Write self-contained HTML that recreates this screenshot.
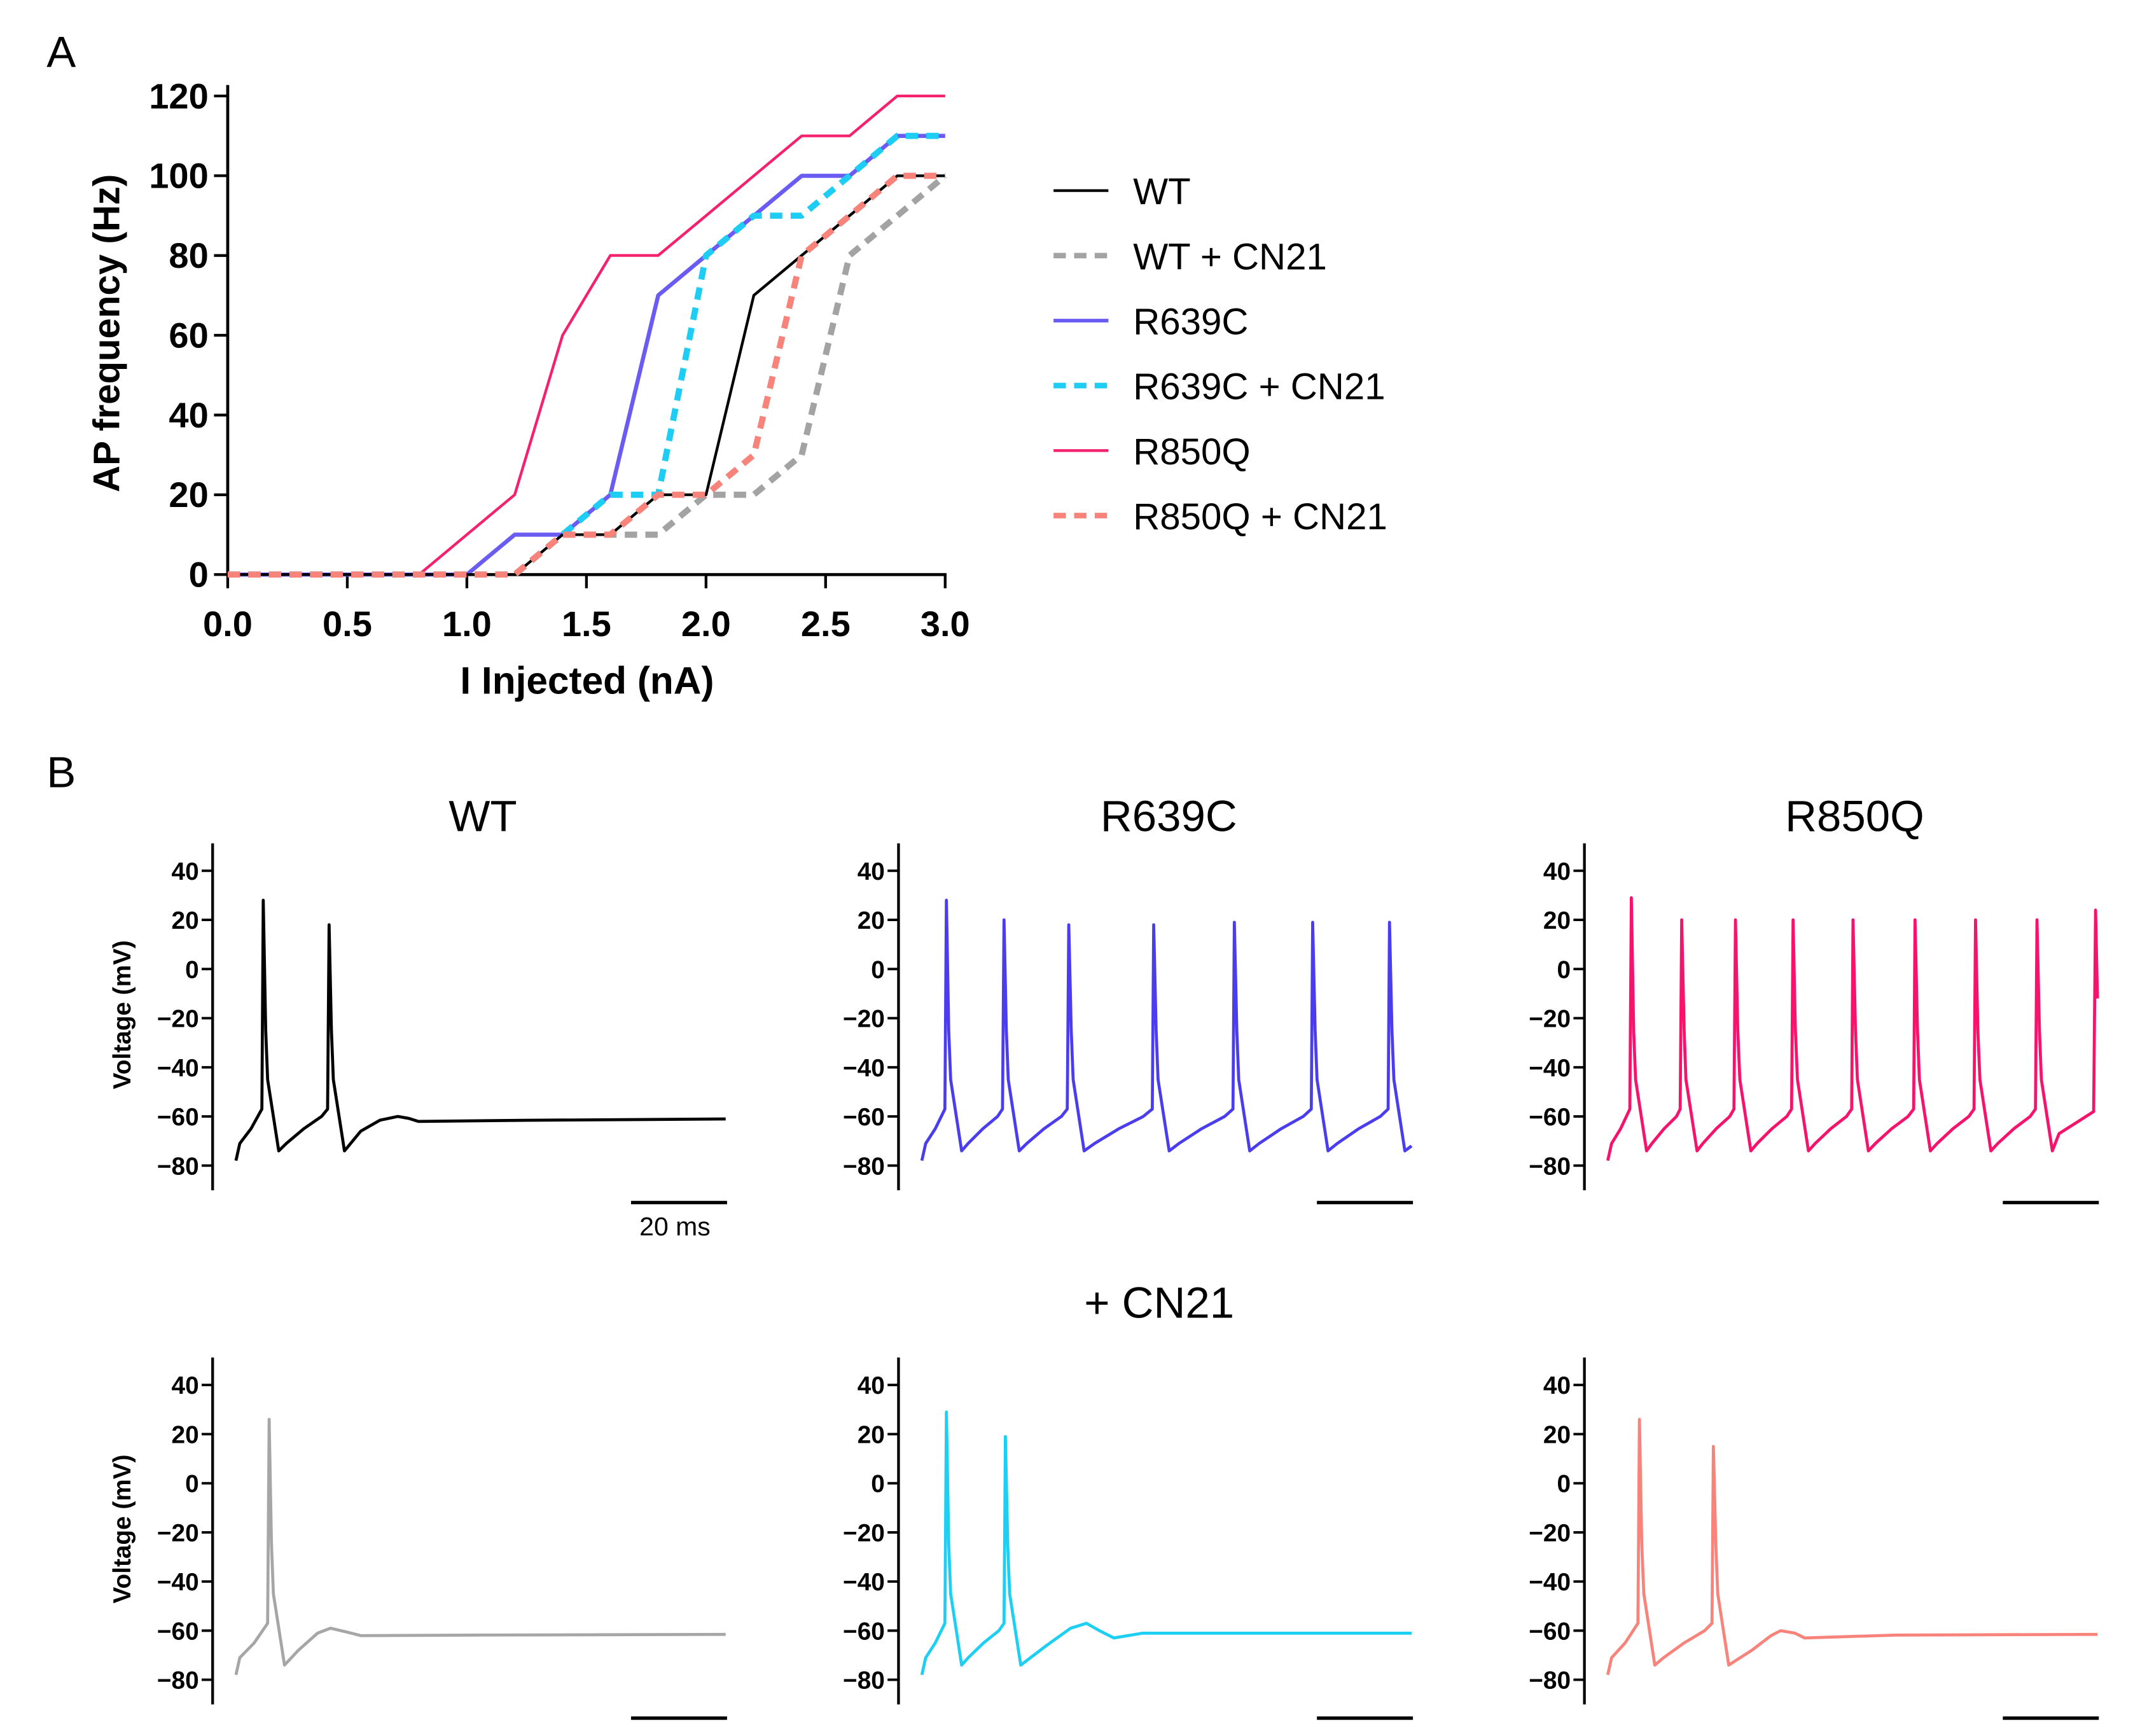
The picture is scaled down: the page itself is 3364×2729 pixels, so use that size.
<!DOCTYPE html>
<html><head><meta charset="utf-8">
<style>
html,body{margin:0;padding:0;background:#fff;}
svg{display:block;}
text{font-family:"Liberation Sans",sans-serif;fill:#000;}
.nb{font-family:"Liberation Sans Narrow","Liberation Sans",sans-serif;font-weight:bold;}
</style></head>
<body>
<svg id="fig" width="3364" height="2729" viewBox="0 0 1560 1266" preserveAspectRatio="none" xmlns="http://www.w3.org/2000/svg">
<text x="34" y="49" font-size="32">A</text>
<text x="34" y="574" font-size="32">B</text>
<g id="panelA"></g>
<g id="legend"></g>
<g id="panelB"></g>
</svg>
<script>
// ---------- Panel A data ----------
const currents = [0,0.2,0.4,0.6,0.8,1.0,1.2,1.4,1.6,1.8,2.0,2.2,2.4,2.6,2.8,3.0];
const wtFreq      = [0,0,0,0,0,0,0,10,10,20,20,70,80,90,100,100];
const wtCnFreq    = [0,0,0,0,0,0,0,10,10,10,20,20,30,80,90,100];
const r639cFreq   = [0,0,0,0,0,0,10,10,20,70,80,90,100,100,110,110];
const r639cCnFreq = [0,0,0,0,0,0,0,10,20,20,80,90,90,100,110,110];
const r850qFreq   = [0,0,0,0,0,10,20,60,80,80,90,100,110,110,120,120];
const r850qCnFreq = [0,0,0,0,0,0,0,10,10,20,20,30,80,90,100,100];
const xTicks = ["0.0","0.5","1.0","1.5","2.0","2.5","3.0"];
const yTicks = [0,20,40,60,80,100,120];
const seriesNames = ["WT","WT + CN21","R639C","R639C + CN21","R850Q","R850Q + CN21"];

// ---------- Panel B data (time ms, voltage mV) ----------
const wtSpikes = [[5.7,28],[19.4,18]];
const wtTailT = [26,30,33.7,36,38,60,102];
const wtTailV = [-66,-61.5,-60,-60.8,-62,-61.6,-61];
const r639cSpikes = [[5.1,28],[17.1,20],[30.6,18],[48.3,18],[65.1,19],[81.4,19],[97.4,19]];
const r639cTailT = [102];
const r639cTailV = [-72];
const r850qSpikes = [[4.9,29],[15.4,20],[26.6,20],[38.6,20],[51.1,20],[64,20],[76.6,20],[89.4,20]];
const r850qTailT = [94,98,101.2,101.6,102];
const r850qTailV = [-67,-62,-58,24,-12];
const wtCnSpikes = [[6.9,26]];
const wtCnTailT = [13,17,19.7,23,26,50,102];
const wtCnTailV = [-68,-61,-59,-60.5,-62,-61.8,-61.5];
const r639cCnSpikes = [[5.1,29],[17.4,19]];
const r639cCnTailT = [26,31,34.3,37,40,46,102];
const r639cCnTailV = [-66,-59,-57,-60,-63,-61,-61];
const r850qCnSpikes = [[6.6,26],[22,15]];
const r850qCnTailT = [30,34,36,39,41,60,102];
const r850qCnTailV = [-68,-62,-60,-61,-63,-61.8,-61.5];
const vTicks = [40,20,0,-20,-40,-60,-80];

const NS="http://www.w3.org/2000/svg";
function mk(tag,attrs,parent,txt){const e=document.createElementNS(NS,tag);for(const k in attrs)e.setAttribute(k,attrs[k]);if(txt!==undefined)e.textContent=txt;parent.appendChild(e);return e;}

// ---------- Panel A ----------
const A=document.getElementById('panelA');
const ax0=166, ax1=689, ay0=419, ay1=70;
const xA=v=>ax0+(v-0)/3*(ax1-ax0);
const yA=v=>ay0-(v/120)*(ay0-ay1);
let e;
e=mk('line',{x1:ax0,y1:ay1-8,x2:ax0,y2:ay0,stroke:'#000','stroke-width':2.2},A);


e=mk('line',{x1:ax0,y1:ay0,x2:ax1+1,y2:ay0,stroke:'#000','stroke-width':2.2},A);


yTicks.forEach(v=>{
  const t=mk('line',{x1:ax0-10,y1:yA(v),x2:ax0,y2:yA(v),stroke:'#000','stroke-width':2},A);
  
  
  const l=mk('text',{x:ax0-14,y:yA(v)+9,'font-size':26,'text-anchor':'end',class:'nb'},A,String(v));
  
  
});
xTicks.forEach(s=>{
  const v=parseFloat(s);
  const t=mk('line',{x1:xA(v),y1:ay0,x2:xA(v),y2:ay0+10,stroke:'#000','stroke-width':2},A);
  
  
  const l=mk('text',{x:xA(v),y:464,'font-size':26,'text-anchor':'middle',class:'nb'},A,s);
  
  
});
e=mk('text',{x:428,y:506,'font-size':28,'text-anchor':'middle',class:'nb'},A,'I Injected (nA)');


e=mk('text',{x:0,y:0,'font-size':27,'font-weight':'bold','text-anchor':'middle','transform':'translate(87,243) rotate(-90)','xml:space':'preserve'},A,'AP  frequency (Hz)');



const seriesStyles=[
 {c:'#000000',w:2,d:null},
 {c:'#a3a3a3',w:4.5,d:'9,6'},
 {c:'#6a5cf2',w:3,d:null},
 {c:'#1ecdf3',w:4.5,d:'9,6'},
 {c:'#f5206e',w:2,d:null},
 {c:'#f8837b',w:4.5,d:'9,6'}];
const seriesData=[wtFreq,wtCnFreq,r639cFreq,r639cCnFreq,r850qFreq,r850qCnFreq];
const drawOrder=[4,2,1,0,3,5];
drawOrder.forEach(i=>{
  const pts=currents.map((c,j)=>xA(c).toFixed(1)+','+yA(seriesData[i][j]).toFixed(1)).join(' ');
  const a={points:pts,fill:'none',stroke:seriesStyles[i].c,'stroke-width':seriesStyles[i].w,'stroke-linejoin':'round'};
  if(seriesStyles[i].d)a['stroke-dasharray']=seriesStyles[i].d;
  const p=mk('polyline',a,A);
  
  
});
// legend
const L=document.getElementById('legend');
seriesNames.forEach((n,i)=>{
  const y=139+i*47.4;
  const a={x1:768,y1:y,x2:808,y2:y,stroke:seriesStyles[i].c,'stroke-width':Math.max(2,seriesStyles[i].w*0.9)};
  if(seriesStyles[i].d)a['stroke-dasharray']='9,6';
  const g=mk('g',{},L);
  
  
  mk('line',a,g);
  mk('text',{x:826,y:y+10,'font-size':27},g,n);
});

// ---------- Panel B ----------
const B=document.getElementById('panelB');
function buildTrace(spikes,tailT,tailV){
  const T=[0,0.8],V=[-78,-71];
  const s0=spikes[0][0];
  T.push(s0*0.55,s0-0.3);V.push(-65,-57);
  spikes.forEach((sp,i)=>{
    const s=sp[0];
    if(i>0){
      const tr=spikes[i-1][0]+3.2, g=s-tr;
      T.push(tr+g*0.15,tr+g*0.5,tr+g*0.85,s-0.3);V.push(-71,-65,-60,-57);
    }
    T.push(s,s+0.5,s+0.9,s+3.2);V.push(sp[1],-25,-45,-74);
  });
  tailT.forEach((t,i)=>{T.push(t);V.push(tailV[i]);});
  return [T,V];
}
const panels=[
 {ax:155,top:635,title:'WT',col:'#000000',sp:wtSpikes,tt:wtTailT,tv:wtTailV,lab:true,sb:true},
 {ax:655,top:635,title:'R639C',col:'#4a3df0',sp:r639cSpikes,tt:r639cTailT,tv:r639cTailV},
 {ax:1155,top:635,title:'R850Q',col:'#f7136b',sp:r850qSpikes,tt:r850qTailT,tv:r850qTailV},
 {ax:155,top:1010,col:'#a6a6a6',sp:wtCnSpikes,tt:wtCnTailT,tv:wtCnTailV,lab:true},
 {ax:655,top:1010,col:'#1ccff3',sp:r639cCnSpikes,tt:r639cCnTailT,tv:r639cCnTailV},
 {ax:1155,top:1010,col:'#f8837b',sp:r850qCnSpikes,tt:r850qCnTailT,tv:r850qCnTailV}];
const names=['wt','r639c','r850q','wt-cn21','r639c-cn21','r850q-cn21'];
panels.forEach((p,k)=>{
  const g=mk('g',{},B);
  
  
  const pxmV=(850-635)/120;
  const yB=v=>p.top+(40-v)*pxmV;
  const x0=p.ax+17, pxms=3.5;
  const xB=t=>x0+t*pxms;
  let a=mk('line',{x1:p.ax,y1:p.top-20,x2:p.ax,y2:p.top+233,stroke:'#000','stroke-width':2},g);
  
  
  vTicks.forEach(v=>{
    const t=mk('line',{x1:p.ax-8,y1:yB(v),x2:p.ax,y2:yB(v),stroke:'#000','stroke-width':1.8},g);
    
    
    const l=mk('text',{x:p.ax-10,y:yB(v)+6.5,'font-size':18,'text-anchor':'end',class:'nb'},g,v<0?'\u2212'+(-v):String(v));
    
    
  });
  if(p.lab){
    const l=mk('text',{x:0,y:0,'font-size':18,'font-weight':'bold','text-anchor':'middle',transform:'translate(95,'+(p.top+105)+') rotate(-90)'},g,'Voltage (mV)');
    
    
  }
  if(p.title){
    const l=mk('text',{x:p.ax+197,y:606,'font-size':32,'text-anchor':'middle'},g,p.title);
    
    
  }
  const sbY=p.top+242+(p.top>700?1:0);
  const s=mk('line',{x1:p.ax+305,y1:sbY,x2:p.ax+375,y2:sbY,stroke:'#000','stroke-width':2.5},g);
  
  
  if(p.sb){
    const l=mk('text',{x:p.ax+337,y:sbY+24,'font-size':19,'text-anchor':'middle'},g,'20 ms');
    
    
  }
  const [T,V]=buildTrace(p.sp,p.tt,p.tv);
  const pl=mk('polyline',{points:T.map((t,i)=>xB(t).toFixed(1)+','+yB(V[i]).toFixed(1)).join(' '),fill:'none',stroke:p.col,'stroke-width':2.2,'stroke-linejoin':'round'},g);
  
  
});
e=mk('text',{x:845,y:961,'font-size':32,'text-anchor':'middle'},B,'+ CN21');


</script>
</body></html>
